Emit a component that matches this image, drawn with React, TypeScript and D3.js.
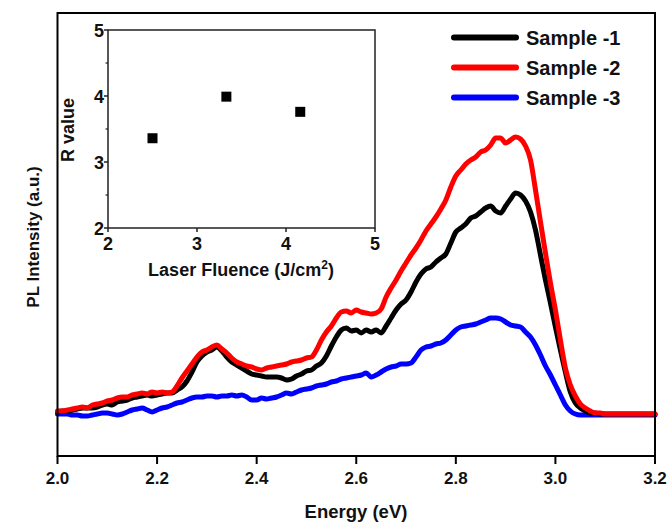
import React from "react";
import * as d3 from "d3";

// Photon energy (eV)
const energy = [
  2.0, 2.01, 2.02, 2.03, 2.04, 2.05, 2.06, 2.07, 2.08, 2.09,
  2.1, 2.11, 2.12, 2.13, 2.14, 2.15, 2.16, 2.17, 2.18, 2.19,
  2.2, 2.21, 2.22, 2.23, 2.24, 2.25, 2.26, 2.27, 2.28, 2.29,
  2.3, 2.31, 2.32, 2.33, 2.34, 2.35, 2.36, 2.37, 2.38, 2.39,
  2.4, 2.41, 2.42, 2.43, 2.44, 2.45, 2.46, 2.47, 2.48, 2.49,
  2.5, 2.51, 2.52, 2.53, 2.54, 2.55, 2.56, 2.57, 2.58, 2.59,
  2.6, 2.61, 2.62, 2.63, 2.64, 2.65, 2.66, 2.67, 2.68, 2.69,
  2.7, 2.71, 2.72, 2.73, 2.74, 2.75, 2.76, 2.77, 2.78, 2.79,
  2.8, 2.81, 2.82, 2.83, 2.84, 2.85, 2.86, 2.87, 2.88, 2.89,
  2.9, 2.91, 2.92, 2.93, 2.94, 2.95, 2.96, 2.97, 2.98, 2.99,
  3.0, 3.01, 3.02, 3.03, 3.04, 3.05, 3.06, 3.07, 3.08, 3.09,
  3.1, 3.15, 3.2,
];

const sample1 = [
  44, 45, 45, 46, 47, 48, 48, 48, 49, 51,
  52, 51, 54, 55, 56, 58, 59, 60, 61, 60,
  61, 62, 63, 63, 66, 69, 75, 84, 94, 100,
  104, 106, 109, 105, 99, 94, 91, 88, 85, 82,
  81, 80, 79, 79, 79, 78, 76, 77, 80, 82,
  85, 86, 90, 93, 100, 110, 119, 126, 128, 125,
  126, 123, 126, 124, 126, 123, 130, 138, 146, 152,
  156, 164, 174, 182, 187, 189, 194, 198, 202, 213,
  224, 228, 232, 238, 240, 244, 248, 250, 245, 243,
  250, 257, 263, 261, 255, 244, 226, 201, 176, 153,
  129, 106, 84, 64, 53, 48, 45, 43, 43, 42,
  42, 42, 42,
];

const sample2 = [
  45, 45, 46, 47, 48, 49, 48, 51, 52, 53,
  55, 56, 58, 59, 59, 61, 62, 63, 62, 64,
  63, 64, 63, 64, 70, 78, 85, 92, 99, 104,
  106, 109, 111, 107, 103, 98, 94, 92, 90, 89,
  87, 86, 88, 89, 90, 91, 92, 94, 95, 96,
  98, 99, 106, 116, 124, 130, 138, 144, 145, 143,
  146, 144, 143, 142, 143, 147, 159, 168, 176, 185,
  193, 201, 208, 216, 225, 232, 239, 247, 256, 269,
  280, 286, 292, 296, 299, 304, 306, 311, 318, 318,
  313, 316, 319, 317, 310, 296, 266, 234, 203, 173,
  146, 116, 88, 71, 60, 52, 48, 45, 43, 43,
  42, 42, 42,
];

const sample3 = [
  42, 42, 42, 41, 41, 40, 40, 41, 42, 43,
  43, 42, 41, 42, 44, 46, 47, 48, 46, 44,
  46, 48, 49, 51, 53, 54, 56, 58, 59, 59,
  60, 60, 59, 60, 60, 61, 60, 61, 59, 56,
  56, 58, 57, 58, 59, 61, 63, 62, 64, 66,
  67, 68, 70, 71, 72, 74, 75, 77, 78, 79,
  80, 81, 83, 79, 81, 84, 87, 89, 90, 92,
  92, 93, 99, 106, 109, 110, 112, 113, 116, 121,
  126, 129, 130, 131, 132, 134, 136, 138, 138, 137,
  134, 131, 130, 129, 124, 119, 111, 101, 90, 81,
  71, 61, 51, 45, 42, 41, 41, 41, 41, 41,
  41, 41, 41,
];

const seriesNames = ["Sample -1", "Sample -2", "Sample -3"];
const seriesColors = ["#000000", "#ff0000", "#0000ff"];
const xTicks = [2.0, 2.2, 2.4, 2.6, 2.8, 3.0, 3.2];

// Inset: R value vs laser fluence
const fluence = [2.5, 3.33, 4.16];
const rValue = [3.36, 3.99, 3.76];
const insetXTicks = [2, 3, 4, 5];
const insetYTicks = [2, 3, 4, 5];
const insetYMinor = [2.5, 3.5, 4.5];

const FONT = "'Liberation Sans', Arial, Helvetica, sans-serif";

export default function App() {
  const W = 670;
  const H = 522;
  const left = 57.5, right = 655, top = 13, bottom = 456;

  const x = d3.scaleLinear().domain([2.0, 3.2]).range([left, right]);
  const y = d3.scaleLinear().domain([0, 443]).range([bottom, top]);

  const allSeries = [sample1, sample2, sample3];
  const line = d3
    .line<number>()
    .x((_, i) => x(energy[i]))
    .y((d) => y(d))
    .curve(d3.curveMonotoneX);

  // inset
  const iL = 108, iR = 375, iT = 30, iB = 228;
  const ix = d3.scaleLinear().domain([2, 5]).range([iL, iR]);
  const iy = d3.scaleLinear().domain([2, 5]).range([iB, iT]);

  const drawOrder = [2, 0, 1];

  return (
    <svg
      width={W}
      height={H}
      style={{ position: "absolute", left: 0, top: 0, background: "#fff" }}
      fontFamily={FONT}
    >
      <rect x={0} y={0} width={W} height={H} fill="#fff" />

      {/* series */}
      {drawOrder.map((k) => (
        <path
          key={k}
          d={line(allSeries[k]) || ""}
          fill="none"
          stroke={seriesColors[k]}
          strokeWidth={5}
          strokeLinejoin="round"
          strokeLinecap="round"
        />
      ))}

      {/* main frame */}
      <rect
        x={left}
        y={top}
        width={right - left}
        height={bottom - top}
        fill="none"
        stroke="#000"
        strokeWidth={2}
      />

      {/* x ticks */}
      {xTicks.map((t) => (
        <g key={t}>
          <line x1={x(t)} x2={x(t)} y1={bottom} y2={bottom + 8} stroke="#000" strokeWidth={2} />
          <text
            x={x(t)}
            y={484}
            textAnchor="middle"
            fontSize={17}
            fontWeight="bold"
            fill="#111"
          >
            {t.toFixed(1)}
          </text>
        </g>
      ))}

      <text x={356} y={518} textAnchor="middle" fontSize={18.5} fontWeight="bold" fill="#111">
        Energy (eV)
      </text>
      <text
        transform="translate(39,237) rotate(-90)"
        textAnchor="middle"
        fontSize={17}
        fontWeight="bold"
        fill="#111"
      >
        PL Intensity (a.u.)
      </text>

      {/* legend */}
      {seriesNames.map((name, i) => {
        const ly = 37.5 + i * 30;
        return (
          <g key={name}>
            <line
              x1={454}
              x2={516}
              y1={ly}
              y2={ly}
              stroke={seriesColors[i]}
              strokeWidth={6}
              strokeLinecap="round"
            />
            <text x={526} y={ly + 7} fontSize={20} fontWeight="bold" fill="#111">
              {name}
            </text>
          </g>
        );
      })}

      {/* inset */}
      <rect x={iL} y={iT} width={iR - iL} height={iB - iT} fill="#fff" stroke="#222" strokeWidth={1.5} />
      {insetXTicks.map((t) => (
        <g key={"ix" + t}>
          <line x1={ix(t)} x2={ix(t)} y1={iB} y2={iB + 4} stroke="#222" strokeWidth={1.5} />
          <text x={ix(t)} y={250} textAnchor="middle" fontSize={18} fontWeight="bold" fill="#111">
            {t}
          </text>
        </g>
      ))}
      {insetYTicks.map((t) => (
        <g key={"iy" + t}>
          <line x1={iL - 4} x2={iL} y1={iy(t)} y2={iy(t)} stroke="#222" strokeWidth={1.5} />
          <text x={iL - 4} y={iy(t) + 6.5} textAnchor="end" fontSize={18} fontWeight="bold" fill="#111">
            {t}
          </text>
        </g>
      ))}
      {insetYMinor.map((t) => (
        <line key={"im" + t} x1={iL - 2.5} x2={iL} y1={iy(t)} y2={iy(t)} stroke="#222" strokeWidth={1.2} />
      ))}
      {fluence.map((f, i) => (
        <rect key={"p" + i} x={ix(f) - 5} y={iy(rValue[i]) - 5} width={10} height={10} fill="#000" />
      ))}
      <text x={241} y={276} textAnchor="middle" fontSize={18} fontWeight="bold" fill="#111">
        Laser Fluence (J/cm
        <tspan dy={-7} fontSize={12}>2</tspan>
        <tspan dy={7}>)</tspan>
      </text>
      <text
        transform="translate(74,130) rotate(-90)"
        textAnchor="middle"
        fontSize={18}
        fontWeight="bold"
        fill="#111"
      >
        R value
      </text>
    </svg>
  );
}
